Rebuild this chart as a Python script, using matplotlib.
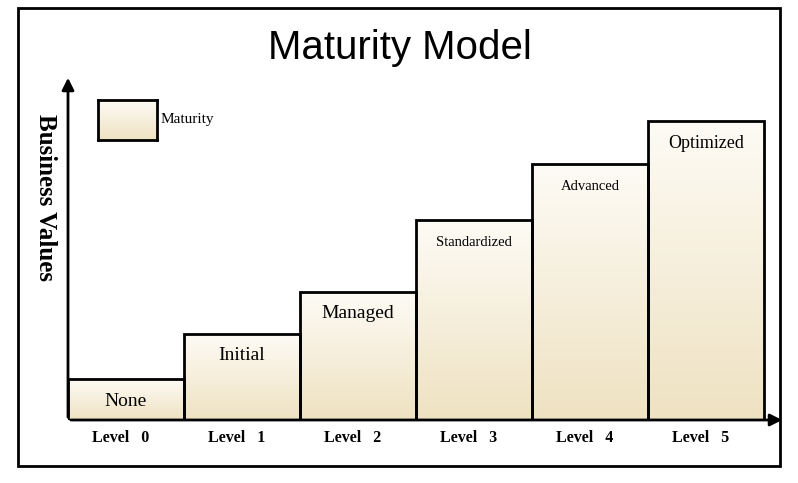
import matplotlib
matplotlib.use("Agg")
import matplotlib.pyplot as plt
import numpy as np
from matplotlib.patches import Rectangle

levels = ["Level   0", "Level   1", "Level   2", "Level   3", "Level   4", "Level   5"]
stages = ["None", "Initial", "Managed", "Standardized", "Advanced", "Optimized"]
values = [41, 86, 128, 200, 256, 299]
label_sizes = [14, 14, 14, 10.5, 10.5, 13]

W, H = 798, 483
fig = plt.figure(figsize=(W/100, H/100), dpi=100)
serif = ["Liberation Serif", "DejaVu Serif"]

fig.add_artist(Rectangle((18/W, (H-466)/H), (780-18)/W, (466-8)/H, transform=fig.transFigure,
                         fill=False, lw=2, ec="black"))
fig.text(400/W, 1-48/H, "Maturity Model", ha="center", va="center", fontsize=29,
         family=["Liberation Sans", "DejaVu Sans"])

ax = fig.add_axes([68/W, (H-420)/H, (785-68)/W, (420-75)/H])
ax.set_xlim(0, 6.18)
ax.set_ylim(0, 345)
ax.axis("off")

grad = np.linspace(0, 1, 256).reshape(-1, 1)
cmap = matplotlib.colors.LinearSegmentedColormap.from_list("c", ["#efe2c2", "#fdfbf5"])
for i, v in enumerate(values):
    rect = Rectangle((i, 0), 1, v, fill=False, ec="black", lw=2, zorder=3)
    ax.add_patch(rect)
    im = ax.imshow(grad, extent=(i, i+1, 0, v), origin="lower", cmap=cmap, aspect="auto", zorder=2)
    im.set_clip_path(rect)
    ax.text(i+0.5, v-22, stages[i], ha="center", va="center", fontsize=label_sizes[i], family=serif)
    ax.text(i+0.45, -18, levels[i], ha="center", va="center", fontsize=11.5, fontweight="bold",
            family=serif, clip_on=False)

ax.annotate("", xy=(6.18, 0), xytext=(0, 0), arrowprops=dict(arrowstyle="-|>", lw=2, color="black",
            mutation_scale=18), annotation_clip=False)
ax.annotate("", xy=(0, 345), xytext=(0, 0), arrowprops=dict(arrowstyle="-|>", lw=2, color="black",
            mutation_scale=18), annotation_clip=False)

fig.text(45/W, 1-198/H, "Business Values", rotation=270, ha="center", va="center",
         fontsize=18, fontweight="bold", family=serif)

lax = fig.add_axes([98/W, (H-140)/H, 59/W, 40/H])
lax.imshow(grad, extent=(0, 1, 0, 1), origin="lower", cmap=cmap, aspect="auto")
lax.set_xticks([]); lax.set_yticks([])
for s in lax.spines.values():
    s.set_linewidth(2)
fig.text(161/W, 1-120/H, "Maturity", ha="left", va="center", fontsize=11, family=serif)

fig.savefig("out.png", dpi=100)
